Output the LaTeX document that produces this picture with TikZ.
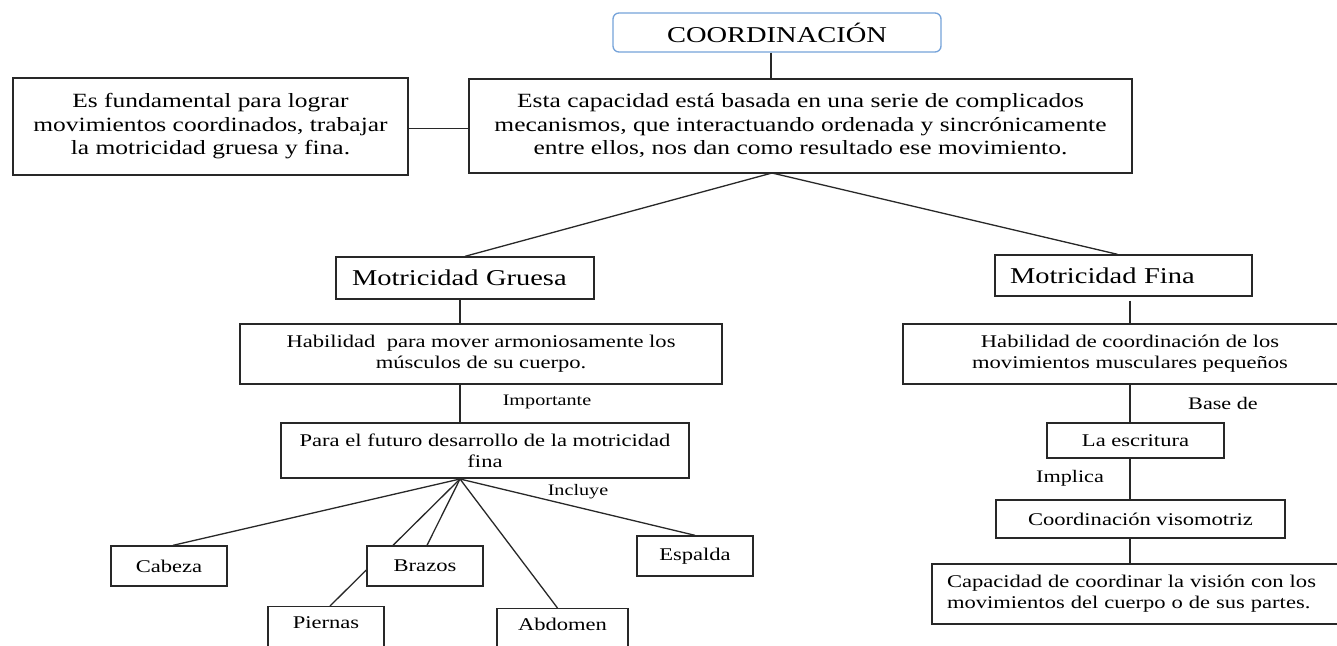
\documentclass[tikz,border=0pt]{standalone}
\usepackage{fontspec}
\setmainfont{Liberation Serif}[FakeStretch=1.26]
\definecolor{coordblue}{RGB}{118,163,218}
\definecolor{ink}{RGB}{40,40,40}
\begin{document}
\begin{tikzpicture}[x=1pt,y=-1pt,
  box/.style={draw=ink, line width=1.35pt, rectangle, inner sep=0pt, align=center},
  rbox/.style={draw=coordblue, line width=1.35pt, rounded corners=6pt, inner sep=0pt, align=center},
  conn/.style={draw=ink, line width=1.3pt},
  big/.style={font=\fontsize{22.6}{26}\selectfont},
  mid/.style={font=\fontsize{20.2}{23.5}\selectfont},
  small/.style={font=\fontsize{17.9}{21}\selectfont},
  lbl/.style={inner sep=0pt, font=\fontsize{16}{19}\selectfont},
  lblb/.style={inner sep=0pt, font=\fontsize{17.6}{20}\selectfont}]
\clip (0,0) rectangle (1337,645);
\fill[white] (0,0) rectangle (1337,645);

% top level
\node[rbox, big, minimum width=328pt, minimum height=39pt] (coord) at (777,32.5) {COORDINACIÓN};
\node[box, mid, minimum width=663pt, minimum height=94pt] (main) at (800.5,126)
  {Esta capacidad está basada en una serie de complicados\\
   mecanismos, que interactuando ordenada y sincrónicamente\\
   entre ellos, nos dan como resultado ese movimiento.};
\node[box, mid, minimum width=395pt, minimum height=97pt] (left) at (210.5,126.5)
  {Es fundamental para lograr\\ movimientos coordinados, trabajar\\ la motricidad gruesa y fina.};
\coordinate (mb) at (772,173);

\draw[conn] ([xshift=-6pt]coord.south) -- ([xshift=-6pt]coord.south |- main.north);
\draw[conn] ([yshift=-2pt]left.east) -- ([yshift=-2pt]left.east -| main.west);

% Motricidad gruesa
\node[box, big, minimum height=42pt, inner xsep=16pt, text width=226pt, align=left] (gruesa) at (465,278) {Motricidad Gruesa};
\node[box, small, minimum width=482pt, minimum height=60pt] (habg) at (481,354)
  {Habilidad\ \ para mover armoniosamente los\\ músculos de su cuerpo.};
\node[lbl] (imp) at (547,402) {Importante};
\node[box, small, minimum width=408pt, minimum height=55pt] (para) at (485,450.5)
  {Para el futuro desarrollo de la motricidad\\ fina};
\coordinate (pb) at (460,479);

\draw[conn] (mb) -- (gruesa.north);
\draw[conn] ([xshift=-5pt]gruesa.south) -- ([xshift=-5pt]gruesa.south |- habg.north);
\draw[conn] ([xshift=-5pt]gruesa.south |- habg.south) -- ([xshift=-5pt]gruesa.south |- para.north);

\node[box, small, minimum width=116pt, minimum height=40pt] (cabeza) at (169,566) {Cabeza};
\node[box, small, minimum width=116pt, minimum height=40pt] (brazos) at (425,566) {Brazos};
\node[box, small, minimum width=116pt, anchor=north, text height=22pt, text depth=40pt] (piernas) at (326,606) {Piernas};
\node[box, small, minimum width=131pt, anchor=north, text height=22pt, text depth=40pt] (abdomen) at (562.5,608) {Abdomen};
\node[box, small, minimum width=116pt, minimum height=40pt] (espalda) at (695,556) {Espalda};
\node[lbl] (incl) at (578,492) {Incluye};

\draw[conn] (pb) -- ([xshift=4pt]cabeza.north);
\draw[conn] (pb) -- ([xshift=-32pt]brazos.north);
\draw[conn] (pb) -- ([xshift=2pt]brazos.north);
\draw[conn] (pb) -- ([xshift=-5pt]abdomen.north);
\draw[conn] (pb) -- (espalda.north);
\draw[conn] ([yshift=-4pt]brazos.west) -- ([xshift=4pt]piernas.north);

% Motricidad fina
\node[box, big, minimum height=41pt, inner xsep=15pt, text width=227pt, align=left] (fina) at (1123.5,275.5) {Motricidad Fina};
\node[box, small, minimum width=454pt, minimum height=60pt] (habf) at (1130,354)
  {Habilidad de coordinación de los\\ movimientos musculares pequeños};
\node[lblb] (base) at (1223,403) {Base de};
\node[box, small, minimum width=177pt, minimum height=35pt] (escr) at (1135.5,440.5) {La escritura};
\node[lblb] (impl) at (1070,478) {Implica};
\node[box, small, minimum width=289pt, minimum height=38pt] (viso) at (1140.5,519) {Coordinación visomotriz};
\node[box, small, minimum height=60pt, inner xsep=15pt, text width=383pt, align=left] (capac) at (1138.5,594)
  {Capacidad de coordinar la visión con los\\ movimientos del cuerpo o de sus partes.};

\draw[conn] (mb) -- ([xshift=-6pt]fina.north);
\draw[conn] ([yshift=-4pt]fina.south -| habf.north) -- (habf.north);
\draw[conn] (habf.south) -- (habf.south |- escr.north);
\draw[conn] (habf.south |- escr.south) -- (habf.south |- viso.north);
\draw[conn] (habf.south |- viso.south) -- (habf.south |- capac.north);
\end{tikzpicture}
\end{document}
